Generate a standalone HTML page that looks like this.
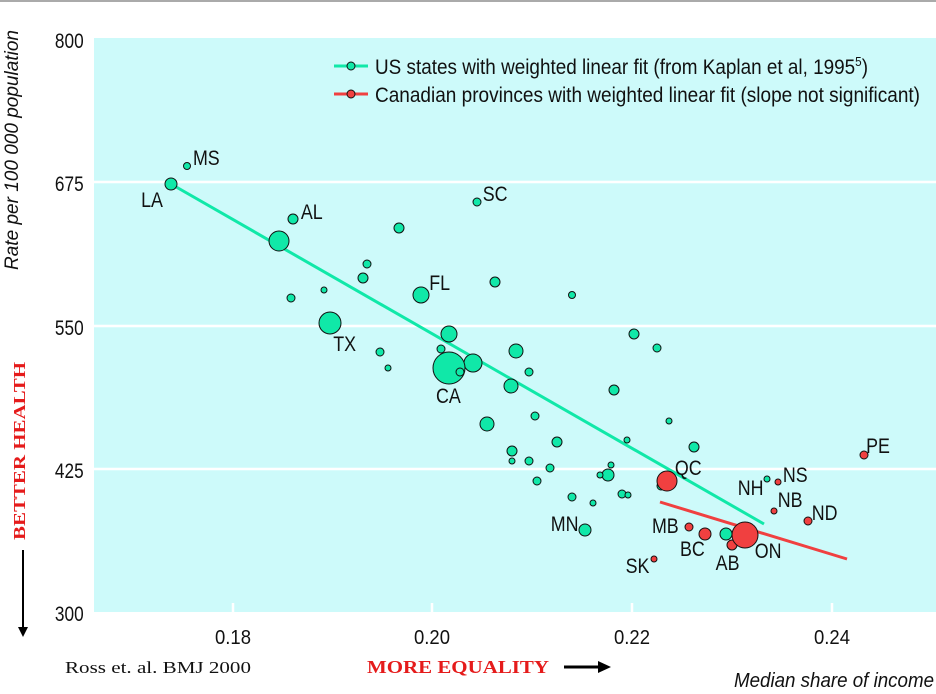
<!DOCTYPE html>
<html><head><meta charset="utf-8"><style>
html,body{margin:0;padding:0;background:#fff;}
svg{display:block;}
.t{font-family:"Liberation Sans",sans-serif;fill:#111;}
</style></head><body>
<svg width="936" height="694" viewBox="0 0 936 694" xmlns="http://www.w3.org/2000/svg">
<rect x="0" y="0" width="936" height="2" fill="#aaa"/>
<rect x="94" y="38" width="842" height="574" fill="#cdfafa"/>
<g stroke="#fff" stroke-width="2.5">
<line x1="94" y1="182" x2="936" y2="182"/>
<line x1="94" y1="326" x2="936" y2="326"/>
<line x1="94" y1="469" x2="936" y2="469"/>
<line x1="233" y1="603" x2="233" y2="612"/>
<line x1="432" y1="603" x2="432" y2="612"/>
<line x1="632" y1="603" x2="632" y2="612"/>
<line x1="832" y1="603" x2="832" y2="612"/>
</g>
<g class="t" font-size="21" text-anchor="end" transform="scale(0.82,1)">
<text x="102" y="48">800</text><text x="102" y="191">675</text><text x="102" y="335">550</text><text x="102" y="478">425</text><text x="102" y="621">300</text>
</g>
<g class="t" font-size="20" text-anchor="middle">
<text x="233" y="644" textLength="36" lengthAdjust="spacingAndGlyphs">0.18</text>
<text x="432" y="644" textLength="36" lengthAdjust="spacingAndGlyphs">0.20</text>
<text x="632" y="644" textLength="36" lengthAdjust="spacingAndGlyphs">0.22</text>
<text x="832" y="644" textLength="36" lengthAdjust="spacingAndGlyphs">0.24</text>
</g>
<text class="t" font-size="19" font-style="italic" transform="translate(18,270) rotate(-90)" textLength="240" lengthAdjust="spacingAndGlyphs">Rate per 100 000 population</text>
<text font-family="Liberation Serif,serif" font-weight="bold" font-size="17" fill="#e51b1b" transform="translate(25,540) rotate(-90)" textLength="178" lengthAdjust="spacingAndGlyphs">BETTER HEALTH</text>
<line x1="23" y1="550" x2="23" y2="628" stroke="#000" stroke-width="2"/>
<polygon points="18,627 28,627 23,637" fill="#000"/>
<text x="65" y="673" font-family="Liberation Serif,serif" font-size="17" fill="#111" textLength="186" lengthAdjust="spacingAndGlyphs">Ross et. al. BMJ 2000</text>
<text x="367" y="673" font-family="Liberation Serif,serif" font-weight="bold" font-size="18" fill="#e51b1b" textLength="182" lengthAdjust="spacingAndGlyphs">MORE EQUALITY</text>
<line x1="564" y1="667" x2="600" y2="667" stroke="#000" stroke-width="3"/>
<polygon points="598,661 611,667 598,673" fill="#000"/>
<text class="t" x="734" y="687" font-size="20" font-style="italic" textLength="200" lengthAdjust="spacingAndGlyphs">Median share of income</text>
<!-- legend -->
<line x1="334" y1="66" x2="368" y2="66" stroke="#10e8a8" stroke-width="3"/>
<circle cx="351" cy="66" r="4" fill="#10e8a8" stroke="#111" stroke-width="1"/>
<text class="t" x="375" y="74" font-size="21" textLength="493" lengthAdjust="spacingAndGlyphs">US states with weighted linear fit (from Kaplan et al, 1995<tspan font-size="13" dy="-8">5</tspan><tspan dy="8">)</tspan></text>
<line x1="334" y1="94" x2="368" y2="94" stroke="#f04040" stroke-width="3"/>
<circle cx="351" cy="94" r="4" fill="#f04040" stroke="#111" stroke-width="1"/>
<text class="t" x="375" y="102" font-size="21" textLength="545" lengthAdjust="spacingAndGlyphs">Canadian provinces with weighted linear fit (slope not significant)</text>
<!-- fit lines -->
<line x1="171" y1="184" x2="764" y2="524" stroke="#10e8a8" stroke-width="3"/>
<line x1="660" y1="502" x2="847" y2="559" stroke="#f04040" stroke-width="3"/>
<g fill="#10e8a8" stroke="#111" stroke-width="1">
<circle cx="171" cy="184" r="6"/><circle cx="187" cy="166" r="3.5"/><circle cx="293" cy="219" r="5"/><circle cx="279" cy="241" r="10"/>
<circle cx="399" cy="228" r="5"/><circle cx="367" cy="264" r="4"/><circle cx="363" cy="278" r="5"/><circle cx="291" cy="298" r="4"/>
<circle cx="324" cy="290" r="3"/><circle cx="421" cy="295" r="8"/><circle cx="330" cy="323" r="11"/><circle cx="449" cy="334" r="8"/>
<circle cx="441" cy="349" r="4"/><circle cx="380" cy="352" r="4"/><circle cx="388" cy="368" r="3"/><circle cx="473" cy="363" r="9"/>
<circle cx="449" cy="368" r="16"/><circle cx="460" cy="372" r="4"/><circle cx="495" cy="282" r="5"/><circle cx="516" cy="351" r="7"/>
<circle cx="529" cy="372" r="4"/><circle cx="511" cy="386" r="7"/><circle cx="535" cy="416" r="4"/><circle cx="487" cy="424" r="7"/>
<circle cx="512" cy="451" r="5"/><circle cx="512" cy="461" r="3"/><circle cx="529" cy="461" r="4"/><circle cx="557" cy="442" r="5"/>
<circle cx="550" cy="468" r="4"/><circle cx="537" cy="481" r="4"/><circle cx="572" cy="497" r="4"/><circle cx="593" cy="503" r="3"/>
<circle cx="585" cy="530" r="6"/><circle cx="614" cy="390" r="5"/><circle cx="634" cy="334" r="5"/><circle cx="657" cy="348" r="4"/>
<circle cx="572" cy="295" r="3.5"/><circle cx="477" cy="202" r="4"/><circle cx="669" cy="421" r="3"/><circle cx="694" cy="447" r="5"/>
<circle cx="627" cy="440" r="3"/><circle cx="611" cy="465" r="3"/><circle cx="608" cy="475" r="6"/><circle cx="600" cy="475" r="3"/>
<circle cx="622" cy="494" r="4"/><circle cx="628" cy="495" r="3"/><circle cx="661" cy="486" r="4"/><circle cx="726" cy="534" r="6"/>
<circle cx="767" cy="479" r="3"/>
</g>
<g fill="#f04040" stroke="#111" stroke-width="1">
<circle cx="667" cy="481" r="10"/><circle cx="689" cy="527" r="4"/><circle cx="705" cy="534" r="6"/><circle cx="732" cy="545" r="5"/>
<circle cx="745" cy="535" r="13"/><circle cx="654" cy="559" r="3"/><circle cx="778" cy="482" r="3"/><circle cx="774" cy="511" r="3"/>
<circle cx="808" cy="521" r="4"/><circle cx="864" cy="455" r="4"/>
</g>
<g class="t" font-size="21" transform="scale(0.85,1)">
<text x="227" y="165">MS</text><text x="166" y="207">LA</text><text x="354" y="219">AL</text><text x="505" y="290">FL</text>
<text x="392" y="351">TX</text><text x="513" y="403">CA</text><text x="568" y="201">SC</text><text x="648" y="531">MN</text>
<text x="794" y="475">QC</text><text x="868" y="495">NH</text><text x="921" y="482">NS</text><text x="915" y="507">NB</text>
<text x="955" y="520">ND</text><text x="1019" y="453">PE</text><text x="767" y="533">MB</text><text x="800" y="556">BC</text>
<text x="842" y="570">AB</text><text x="888" y="558">ON</text><text x="736" y="573">SK</text>
</g>
</svg>
</body></html>
